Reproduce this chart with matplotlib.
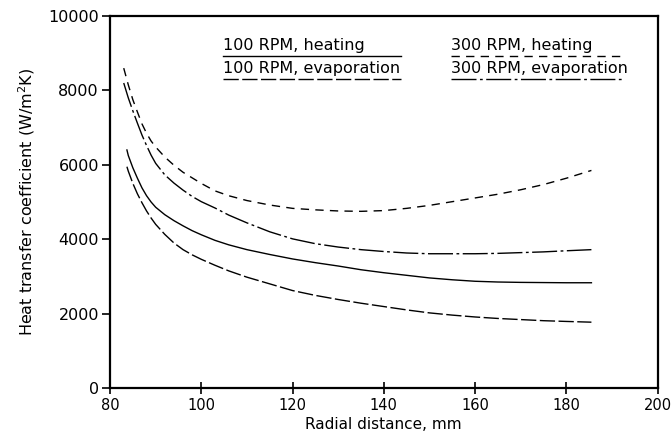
import matplotlib
matplotlib.use("Agg")
import matplotlib.pyplot as plt

# radial distance (mm) and heat transfer coefficient (W/m2K)
x_300 = [83, 84, 85, 86, 87, 88, 89, 90, 92, 94, 96, 98, 100, 103, 106, 110, 115, 120,
         125, 130, 135, 140, 145, 150, 155, 160, 165, 170, 175, 180, 185.5]
y_300_heat = [8600, 8150, 7750, 7420, 7100, 6850, 6640, 6480, 6210, 5990, 5800, 5650, 5500,
              5300, 5170, 5040, 4920, 4830, 4790, 4760, 4750, 4770, 4830, 4910, 5010, 5110,
              5210, 5330, 5470, 5640, 5850]
y_300_evap = [8200, 7800, 7450, 7120, 6800, 6520, 6260, 6040, 5730, 5510, 5320, 5150, 5010,
              4840, 4650, 4440, 4200, 4010, 3880, 3790, 3720, 3670, 3630, 3610, 3610, 3610,
              3620, 3640, 3660, 3690, 3720]

x_100 = [83.7, 84, 85, 86, 87, 88, 89, 90, 92, 94, 96, 98, 100, 103, 106, 110, 115, 120,
         125, 130, 135, 140, 145, 150, 155, 160, 165, 170, 175, 180, 185.5]
y_100_heat = [6400, 6250, 5920, 5640, 5380, 5170, 5000, 4860, 4660, 4500, 4360, 4230, 4120,
              3970, 3850, 3720, 3590, 3470, 3370, 3280, 3180, 3100, 3030, 2960, 2910, 2870,
              2850, 2840, 2835, 2830, 2830]
y_100_evap = [5950, 5830, 5500, 5220, 4980, 4760, 4570, 4400, 4130, 3900, 3720, 3580, 3460,
              3300, 3150, 2980, 2800, 2620, 2490, 2380, 2280, 2190, 2100, 2020, 1960, 1910,
              1870, 1840, 1810, 1790, 1770]

x_ticks = [80, 100, 120, 140, 160, 180, 200]
y_ticks = [0, 2000, 4000, 6000, 8000, 10000]

# line styles
st_100_heat = dict(color="black", lw=1.0, linestyle="-")
st_100_evap = dict(color="black", lw=1.0, linestyle=(0, (11, 2.5)))
st_300_heat = dict(color="black", lw=1.0, linestyle=(0, (6, 4.5)))
st_300_evap = dict(color="black", lw=1.0, linestyle=(0, (18, 2.5, 2, 2.5)))

plt.rcParams["font.family"] = "DejaVu Sans"
fig = plt.figure(figsize=(6.71, 4.46), dpi=100)
ax = fig.add_axes([0.164, 0.130, 0.816, 0.834])

ax.plot(x_300, y_300_heat, **st_300_heat)
ax.plot(x_300, y_300_evap, **st_300_evap)
ax.plot(x_100, y_100_heat, **st_100_heat)
ax.plot(x_100, y_100_evap, **st_100_evap)

ax.set_xlim(80, 200)
ax.set_ylim(0, 10000)
ax.set_xticks(x_ticks)
ax.set_yticks(y_ticks)
ax.tick_params(axis="x", direction="inout", length=8, width=1.2, labelsize=10.5, pad=3)
ax.tick_params(axis="y", direction="out", length=6, width=1.2, labelsize=11.5, pad=2)
for s in ax.spines.values():
    s.set_linewidth(1.6)

ax.set_xlabel("Radial distance, mm", fontsize=11, labelpad=3)
ax.set_ylabel("Heat transfer coefficient (W/m$^2$K)", fontsize=11.5, labelpad=8)

# legend drawn as text with the line sample underneath
legend_items = [
    ("100 RPM, heating", 104.8, 143.7, 9000, 8930, st_100_heat),
    ("100 RPM, evaporation", 104.8, 143.7, 8400, 8300, st_100_evap),
    ("300 RPM, heating", 154.7, 192.7, 9000, 8930, st_300_heat),
    ("300 RPM, evaporation", 154.7, 192.7, 8400, 8300, st_300_evap),
]
for label, x0, x1, ty, ly, st in legend_items:
    ax.text(x0, ty, label, fontsize=11.5, ha="left", va="bottom")
    ax.plot([x0, x1], [ly, ly], **st)

fig.savefig("out.png", dpi=100)
